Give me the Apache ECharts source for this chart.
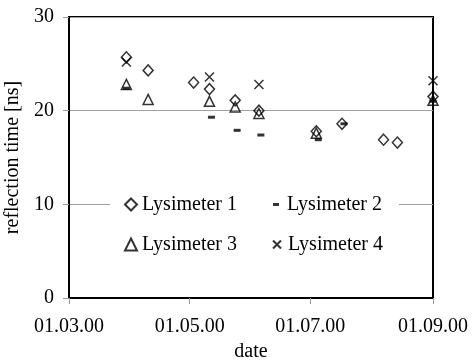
<!DOCTYPE html>
<html>
<head>
<meta charset="utf-8">
<script src="https://cdn.jsdelivr.net/npm/echarts@6/dist/echarts.min.js"></script>
<style>
  html, body { margin: 0; padding: 0; background: #fff; }
  #chart { width: 472px; height: 363px; }
</style>
</head>
<body>
<div id="chart"></div>
<script>
// measured values, [date, reflection time in ns]
const lys1 = [
  ['2000-03-30', 25.7], ['2000-04-10', 24.3], ['2000-05-03', 23.0], ['2000-05-11', 22.3],
  ['2000-05-24', 21.1], ['2000-06-05', 20.0], ['2000-07-04', 17.8], ['2000-07-17', 18.6],
  ['2000-08-07', 16.9], ['2000-08-14', 16.6], ['2000-09-01', 21.5]
];
const lys2 = [
  ['2000-03-30', 22.4], ['2000-05-12', 19.3], ['2000-05-25', 17.9], ['2000-06-06', 17.4],
  ['2000-07-05', 16.9], ['2000-07-18', 18.6], ['2000-09-01', 21.0]
];
const lys3 = [
  ['2000-03-30', 22.8], ['2000-04-10', 21.2], ['2000-05-11', 21.0], ['2000-05-24', 20.4],
  ['2000-06-05', 19.7], ['2000-07-04', 17.6], ['2000-09-01', 21.1]
];
const lys4 = [
  ['2000-03-30', 25.2], ['2000-05-11', 23.6], ['2000-06-05', 22.8], ['2000-09-01', 23.2]
];
const xTickDates = ['2000-03-01', '2000-05-01', '2000-07-01', '2000-09-01'];
const seriesNames = ['Lysimeter 1', 'Lysimeter 2', 'Lysimeter 3', 'Lysimeter 4'];

const FONT = "'Liberation Serif', 'Times New Roman', serif";
const FS = 20;
const toTime = s => {
  const p = s.split('-').map(Number);
  return Date.UTC(p[0], p[1] - 1, p[2]);
};
const pad = n => (n < 10 ? '0' : '') + n;
const fmtDate = v => {
  const d = new Date(v);
  return pad(d.getUTCDate()) + '.' + pad(d.getUTCMonth() + 1) + '.' + String(d.getUTCFullYear()).slice(2);
};
const tickTimes = xTickDates.map(toTime);
const toPoints = arr => arr.map(d => [toTime(d[0]), d[1]]);

const hollow = { color: 'rgba(0,0,0,0)', borderColor: '#000', borderWidth: 1.5 };
const crossPath = 'path://M0,0L10,10M10,0L0,10';
const crossIcon = 'path://M0,0M12,12M2,2L10,10M10,2L2,10';
const dashIcon = 'path://M0,0M12,12M3,4.5h6v3h-6z';

const chart = echarts.init(document.getElementById('chart'));
chart.setOption({
  animation: false,
  backgroundColor: '#fff',
  textStyle: { fontFamily: FONT, color: '#000' },
  grid: {
    left: 69, right: 39, top: 17, bottom: 65,
    containLabel: false,
    outerBoundsMode: 'none',
    show: true, borderColor: '#000', borderWidth: 2
  },
  legend: {
    left: 110,
    top: 182,
    width: 285,
    padding: [11, 0, 11, 14],
    backgroundColor: '#fff',
    itemWidth: 12,
    itemHeight: 12,
    itemGap: 17,
    textStyle: { fontFamily: FONT, fontSize: FS, color: '#000', width: 111, lineHeight: 23 },
    data: [
      { name: seriesNames[0] },
      { name: seriesNames[1], icon: dashIcon },
      { name: seriesNames[2] },
      { name: seriesNames[3], icon: crossIcon }
    ]
  },
  xAxis: {
    type: 'value',
    min: tickTimes[0],
    max: tickTimes[tickTimes.length - 1],
    name: 'date',
    nameLocation: 'middle',
    nameGap: 44,
    nameTextStyle: { fontFamily: FONT, fontSize: FS, color: '#000' },
    axisLine: { lineStyle: { color: '#000', width: 2 } },
    axisTick: { show: true, length: 6, lineStyle: { color: '#999' }, customValues: tickTimes },
    axisLabel: {
      customValues: tickTimes,
      formatter: fmtDate,
      fontFamily: FONT, fontSize: FS, color: '#000', margin: 19
    },
    splitLine: { show: false }
  },
  yAxis: {
    type: 'value',
    min: 0, max: 30, interval: 10,
    name: 'reflection time [ns]',
    nameLocation: 'middle',
    nameGap: 45,
    nameTextStyle: { fontFamily: FONT, fontSize: FS, color: '#000' },
    axisLine: { show: true, lineStyle: { color: '#000', width: 2 } },
    axisTick: { show: true, length: 6, lineStyle: { color: '#999' } },
    axisLabel: { fontFamily: FONT, fontSize: FS, color: '#000', margin: 15 },
    splitLine: { show: true, lineStyle: { color: '#a0a0a0', width: 1 } }
  },
  series: [
    { name: seriesNames[0], type: 'scatter', data: toPoints(lys1), symbol: 'diamond', symbolSize: [10, 11], itemStyle: hollow },
    { name: seriesNames[1], type: 'scatter', data: toPoints(lys2), symbol: 'rect', symbolSize: [7, 3], itemStyle: { color: '#000' } },
    { name: seriesNames[2], type: 'scatter', data: toPoints(lys3), symbol: 'triangle', symbolSize: [10, 10], itemStyle: hollow },
    { name: seriesNames[3], type: 'scatter', data: toPoints(lys4), symbol: crossPath, symbolSize: [9, 9], itemStyle: hollow }
  ]
});
</script>
</body>
</html>
